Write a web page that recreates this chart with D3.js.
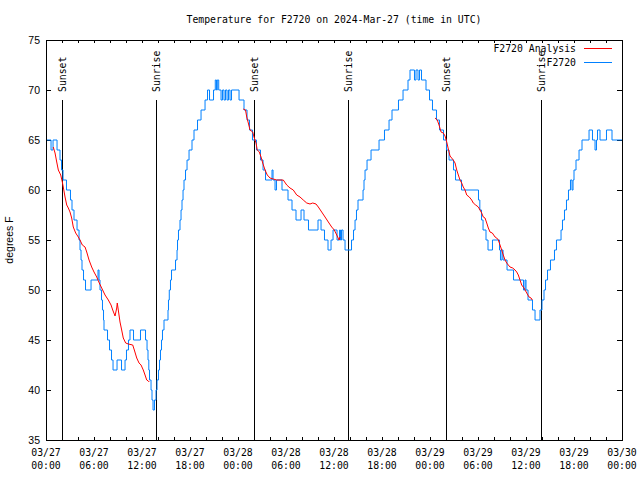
<!DOCTYPE html>
<html><head><meta charset="utf-8">
<script src="https://cdn.jsdelivr.net/npm/d3@7"></script>
<style>body{margin:0;background:#fff} svg{display:block}</style>
</head><body>
<script>
// ---------- data ----------
const chartTitle = "Temperature for F2720 on 2024-Mar-27 (time in UTC)";
const yLabel = "degrees F";
const yTicks = [35, 40, 45, 50, 55, 60, 65, 70, 75];
const seriesNames = ["F2720 Analysis", "F2720"];
// hours since 2024-03-27 00:00 UTC
const obsHours = [0,0.63,0.88,1.38,1.75,1.94,2.13,2.56,3.06,3.25,3.5,3.88,4.13,4.25,4.38,4.5,4.69,4.94,5.63,6.5,6.63,6.75,6.94,7.06,7.19,7.25,7.69,7.94,8.19,8.38,8.88,9.44,9.88,10.06,10.31,10.5,10.94,11.81,12.44,12.63,12.75,12.85,12.94,13.13,13.25,13.38,13.56,13.75,13.88,14.06,14.19,14.31,14.44,14.56,14.75,15.25,15.31,15.41,15.56,15.69,16.19,16.38,16.44,16.56,16.75,16.88,17.0,17.13,17.25,17.44,17.63,17.88,18.25,18.5,18.94,19.38,19.88,20.19,20.44,20.94,21.16,21.31,21.41,21.59,21.88,22.06,22.25,22.44,22.63,22.81,23.0,23.19,24.13,24.75,25.13,25.44,25.81,26.31,26.81,27.13,27.44,28.25,28.38,28.63,28.81,29.5,30.25,30.75,31.25,31.88,32.25,32.81,34.0,34.38,34.81,35.25,35.63,35.88,36.38,36.69,36.81,36.94,37.13,37.38,38.19,38.44,38.63,38.81,39.0,39.63,39.75,39.88,40.13,40.63,41.63,42.31,42.88,43.25,44.06,44.63,45.25,45.5,46.06,46.25,46.5,46.69,46.94,47.5,47.94,48.31,48.81,49.19,49.69,50.06,50.38,50.94,51.19,51.94,54.06,54.23,54.44,54.63,55.0,55.25,55.81,56.69,56.81,57.0,57.13,57.63,58.44,59.69,59.88,60.0,60.25,60.81,61.13,61.75,62.0,62.25,62.44,62.69,63.06,63.56,63.81,64.38,64.56,64.81,65.06,65.31,65.56,65.75,65.88,66.0,66.25,66.63,67.0,67.88,68.31,68.63,68.81,68.94,69.25,70.06,70.75,72.0];
const obsTemps = [65,64,65,64,63,62,61,60,59,58,57,56,55,54,53,52,51,50,51,52,51,50,49,48,47,46,45,44,43,42,43,42,43,44,45,46,45,46,45,44,43,42,41,40,39,38,39,40,41,42,43,44,45,46,47,48,49,50,51,52,53,54,55,56,57,58,59,60,61,62,63,64,65,66,67,68,69,70,69,70,71,70,71,70,69,70,69,70,69,70,69,70,69,68,67,66,65,64,63,62,61,62,61,60,61,60,59,58,57,58,57,56,57,56,55,54,55,56,55,56,55,56,55,54,55,56,57,58,59,60,61,62,63,64,65,66,67,68,69,70,71,72,71,72,71,72,71,70,69,68,67,66,65,64,63,62,61,60,59,58,57,56,55,54,55,54,53,54,53,52,51,50,51,50,49,48,47,48,49,50,51,52,53,54,55,56,57,58,59,60,61,60,61,62,63,64,65,66,65,64,65,66,65,66,65,65];
// analysis series (null = gap between runs)
const anaHours = [0.91,1.13,1.34,1.54,1.84,2.04,2.16,2.38,2.59,2.79,3.0,3.21,3.41,3.71,4.04,4.25,4.54,4.88,5.09,5.38,5.71,6.0,6.34,6.66,6.96,7.38,7.79,8.13,8.34,8.63,8.84,8.91,9.09,9.25,9.46,9.66,9.96,10.29,10.84,11.04,11.34,11.63,11.88,12.16,12.38,12.59,12.79,12.91,
  13.5,
  24.66,24.94,25.09,25.29,25.5,25.84,26.0,26.25,26.41,26.66,26.88,27.09,27.38,27.66,28.0,28.41,28.84,29.66,30.09,30.5,30.91,31.34,31.75,32.16,32.59,33.0,33.34,33.75,34.04,34.46,34.88,35.29,35.71,36.04,36.34,36.63,36.75,
  40,
  48.63,48.91,49.13,49.38,49.66,49.88,50.09,50.29,50.5,50.71,50.91,51.13,51.34,51.54,51.75,51.96,52.16,52.38,52.59,52.91,53.21,53.41,53.71,54.04,54.25,54.46,54.66,54.88,55.09,55.29,55.5,55.79,56.13,56.34,56.54,56.75,56.96,57.16,57.38,57.59,57.79,58.0,58.34,58.63,58.84,59.04,59.25,59.46,59.75,60.09,60.38,60.63,60.79];
const anaTemps = [64.3,63.7,62.8,62.0,61.5,60.8,60.3,59.3,58.5,58.2,57.8,57.2,56.3,55.7,55.3,55.0,54.5,54.3,53.8,53.0,52.3,51.8,51.3,50.7,50.2,49.5,49.0,48.5,48.0,47.4,48.2,48.7,47.7,46.8,46.0,45.2,44.7,44.6,44.5,44.0,43.2,42.7,42.5,42.0,41.5,41.0,40.9,40.8,
  null,
  68.1,68.0,67.3,66.7,66.0,65.8,65.3,64.7,64.0,63.8,63.3,62.7,62.0,61.5,61.2,61.1,61.0,61.0,60.5,60.2,60.0,59.5,59.3,59.0,58.7,58.6,58.7,58.6,58.3,57.8,57.3,56.8,56.3,56.0,55.5,55.0,55.3,
  null,
  67.2,67.0,66.5,65.8,65.7,65.4,64.8,64.1,63.4,63.2,63.0,62.7,62.0,61.5,61.0,60.7,60.3,60.0,59.5,59.3,59.0,58.7,58.5,58.3,58.0,57.7,57.3,57.2,56.7,56.2,55.8,55.7,55.3,55.2,55.0,54.5,54.0,53.5,53.0,52.7,52.5,52.3,52.2,52.0,51.8,51.5,51.0,50.5,50.2,49.7,49.3,49.2,49.0];
const eventHours = [2.0, 13.75, 26.0, 37.875, 50.1, 61.875];
const eventLabels = ["Sunset", "Sunrise", "Sunset", "Sunrise", "Sunset", "Sunrise"];
const eventTop = 69; // degrees F where the marker lines start

// ---------- drawing ----------
const t0 = Date.UTC(2024, 2, 27);
const toDate = h => new Date(t0 + h * 3600000);
const W = 640, H = 480, L = 46, R = 622, T = 40, B = 440;
const mono = "'DejaVu Sans Mono', 'Liberation Mono', monospace";
const sans = "'Liberation Sans', Arial, sans-serif";
const red = "#ff0000", blue = "#0080ff";

const svg = d3.select("body").append("svg").attr("width", W).attr("height", H);
svg.append("rect").attr("width", W).attr("height", H).attr("fill", "#fff");

const x = d3.scaleUtc().domain([toDate(0), toDate(72)]).range([L, R]);
const y = d3.scaleLinear().domain([35, 75]).range([B, T]);

// title
svg.append("text").attr("x", (L + R) / 2).attr("y", 23).attr("text-anchor", "middle")
  .style("font-family", mono).style("font-size", "9.8px").text(chartTitle);

// ticks
const hourTicks = d3.utcHour.every(2);
const gb = svg.append("g").attr("transform", `translate(0,${B})`)
  .call(d3.axisBottom(x).ticks(hourTicks).tickSize(-3).tickFormat(""));
const gt = svg.append("g").attr("transform", `translate(0,${T})`)
  .call(d3.axisTop(x).ticks(hourTicks).tickSize(-3).tickFormat(""));
const gl = svg.append("g").attr("transform", `translate(${L},0)`)
  .call(d3.axisLeft(y).tickValues(yTicks).tickSize(-5).tickPadding(6));
const gr = svg.append("g").attr("transform", `translate(${R},0)`)
  .call(d3.axisRight(y).tickValues(yTicks).tickSize(-5).tickFormat(""));
[gb, gt, gl, gr].forEach(g => { g.select(".domain").remove(); g.selectAll("line").attr("stroke", "#000"); });
gl.selectAll("text").style("font-family", sans).style("font-size", "10.5px").attr("fill", "#000");

// x labels (two lines)
const labelTicks = x.ticks(d3.utcHour.every(6));
const fDay = d3.utcFormat("%m/%d"), fTime = d3.utcFormat("%H:%M");
const xl = svg.append("g").style("font-family", mono).style("font-size", "9.8px");
labelTicks.forEach(d => {
  const t = xl.append("text").attr("x", x(d)).attr("text-anchor", "middle");
  t.append("tspan").attr("x", x(d)).attr("y", 456).text(fDay(d));
  t.append("tspan").attr("x", x(d)).attr("y", 469).text(fTime(d));
});

// y label
svg.append("text").attr("transform", `translate(13,${(T + B) / 2}) rotate(-90)`)
  .attr("text-anchor", "middle").style("font-family", sans).style("font-size", "10.5px").text(yLabel);

// event lines
eventHours.forEach((h, i) => {
  const xx = Math.floor(x(toDate(h))) + 0.5;
  svg.append("line").attr("x1", xx).attr("x2", xx).attr("y1", y(eventTop)).attr("y2", B)
    .attr("stroke", "#000").attr("stroke-width", 1);
  svg.append("text").attr("transform", `translate(${xx + 3.5},${y(eventTop) - 8}) rotate(-90)`)
    .attr("text-anchor", "start").style("font-family", mono).style("font-size", "9.8px").text(eventLabels[i]);
});

// observation line
const obs = obsHours.map((h, i) => [toDate(h), obsTemps[i]]);
svg.append("path").datum(obs).attr("fill", "none").attr("stroke", blue).attr("stroke-width", 1)
  .attr("d", d3.line().x(d => x(d[0])).y(d => y(d[1])).curve(d3.curveStepAfter));

// analysis line
const ana = anaHours.map((h, i) => [toDate(h), anaTemps[i]]);
svg.append("path").datum(ana).attr("fill", "none").attr("stroke", red).attr("stroke-width", 1)
  .attr("d", d3.line().defined(d => d[1] != null).x(d => x(d[0])).y(d => y(d[1])));

// frame
svg.append("rect").attr("x", L + 0.5).attr("y", T + 0.5).attr("width", R - L).attr("height", B - T)
  .attr("fill", "none").attr("stroke", "#000").attr("stroke-width", 1);

// legend
const lg = svg.append("g").style("font-family", mono).style("font-size", "9.8px");
[[seriesNames[0], red, 48], [seriesNames[1], blue, 62]].forEach(([name, c, yy]) => {
  lg.append("text").attr("x", 576).attr("y", yy + 3.5).attr("text-anchor", "end").text(name);
  lg.append("line").attr("x1", 584).attr("x2", 612).attr("y1", yy + 0.5).attr("y2", yy + 0.5)
    .attr("stroke", c).attr("stroke-width", 1);
});
</script>
</body></html>
